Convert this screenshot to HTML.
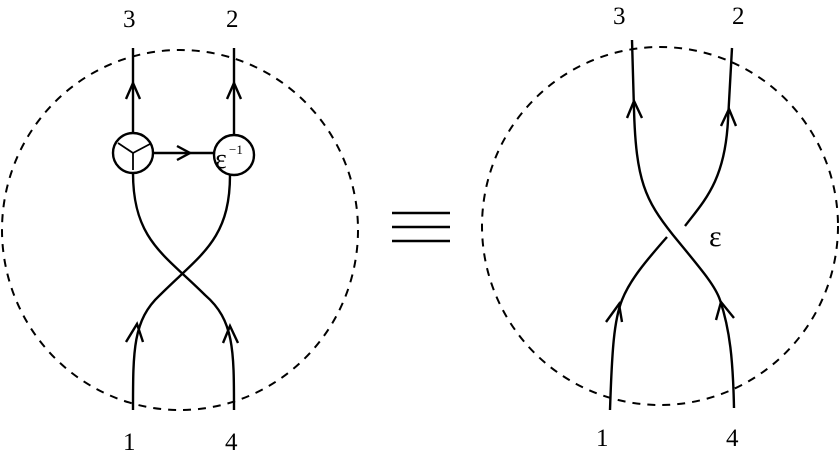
<!DOCTYPE html>
<html><head><style>body{margin:0;background:#fff}svg{display:block}</style></head><body>
<svg width="840" height="453" viewBox="0 0 840 453" xmlns="http://www.w3.org/2000/svg">
<g fill="none" stroke="#000" stroke-width="2.4">
<ellipse cx="180" cy="230" rx="178" ry="180" stroke-dasharray="8,7" stroke-width="2"/>
<ellipse cx="660" cy="226" rx="178" ry="179" stroke-dasharray="8,7" stroke-width="2"/>
<line x1="133" y1="48" x2="133" y2="133"/>
<line x1="234" y1="48" x2="234" y2="135"/>
<circle cx="133" cy="153" r="20"/>
<circle cx="234" cy="155" r="20"/>
<path d="M133 153 L118 143 M133 153 L150 144 M133 153 L133 170" stroke-width="1.8"/>
<line x1="153" y1="153" x2="214" y2="153"/>
<path d="M177 146 L190 153 L177 160"/>
<path d="M126 99 L133 83 L140 99"/>
<path d="M227 99 L234 83 L241 99"/>
<path d="M133 410 C133 350 133 320 160 295 C200 255 230 240 230 175"/>
<path d="M234 410 C234 350 234 320 205 295 C165 255 133 240 133 173"/>
<path d="M126 342 L137 324 L143 342"/>
<path d="M223 343 L230 326 L238 343"/>
<line x1="392" y1="213" x2="450" y2="213"/>
<line x1="392" y1="227" x2="450" y2="227"/>
<line x1="392" y1="241" x2="450" y2="241"/>
<path d="M632 40 L634 110 C636 180 645 200 673 235 C700 268 715 285 720 300 C730 330 733 360 734 408"/>
<path d="M610 410 C612 350 614 320 622 300 C630 280 645 262 667 237"/>
<path d="M685 226 C705 200 725 180 728 120 L732 48"/>
<path d="M627 118 L634 101 L642 118"/>
<path d="M721 126 L729 109 L736 126"/>
<path d="M606 322 L619 304 L622 322"/>
<path d="M716 320 L721 302 L734 318"/>
</g>
<g font-family="Liberation Serif, serif" font-size="25" fill="#000">
<text x="123" y="27">3</text><text x="226" y="27">2</text>
<text x="123" y="450">1</text><text x="225" y="450">4</text>
<text x="613" y="24">3</text><text x="732" y="24">2</text>
<text x="596" y="446">1</text><text x="726" y="446">4</text>
<text x="709" y="246" font-size="30">ε</text>
<text x="215" y="168" font-size="28">ε</text><text x="229" y="154" font-size="13">−1</text>
</g>
</svg>
</body></html>
